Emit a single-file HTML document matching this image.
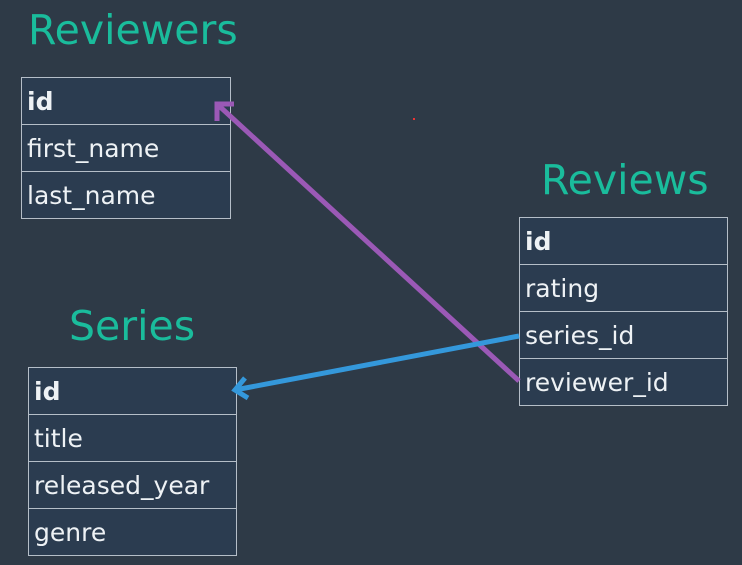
<!DOCTYPE html>
<html><head><style>
body{margin:0;width:742px;height:565px;background:#2e3a47;position:relative;overflow:hidden;font-family:"DejaVu Sans","Liberation Sans",sans-serif;}
.t{position:absolute;color:#1abc9c;font-size:41px;line-height:1;}
table{position:absolute;border-collapse:collapse;background:#2b3c50;}
td{border:1.5px solid #b5bec8;color:#eef2f5;font-size:25px;height:46px;padding:0 5px;line-height:1;box-sizing:border-box;}
tr{height:47px;}
td.b{font-weight:bold;}
</style></head><body>
<div class="t" style="left:28px;top:10px">Reviewers</div>
<div class="t" style="left:541px;top:160px">Reviews</div>
<div class="t" style="left:69px;top:306px">Series</div>
<table style="left:21px;top:77px;width:210px"><tr><td class="b">id</td></tr><tr><td>first_name</td></tr><tr><td>last_name</td></tr></table>
<table style="left:519px;top:217px;width:209px"><tr><td class="b">id</td></tr><tr><td>rating</td></tr><tr><td>series_id</td></tr><tr><td>reviewer_id</td></tr></table>
<table style="left:28px;top:367px;width:209px"><tr><td class="b">id</td></tr><tr><td>title</td></tr><tr><td>released_year</td></tr><tr><td>genre</td></tr></table>
<svg width="742" height="565" style="position:absolute;left:0;top:0">
<line x1="519" y1="381" x2="217" y2="104" stroke="#9b59b6" stroke-width="5"/>
<polyline points="217,121 217,104 234,104" fill="none" stroke="#9b59b6" stroke-width="5"/>
<line x1="519" y1="336" x2="235" y2="390" stroke="#3498db" stroke-width="5"/>
<polyline points="245,378 235,390 248,398" fill="none" stroke="#3498db" stroke-width="5"/>
<rect x="413" y="118" width="2" height="2" fill="#e33"/>
</svg>
</body></html>
